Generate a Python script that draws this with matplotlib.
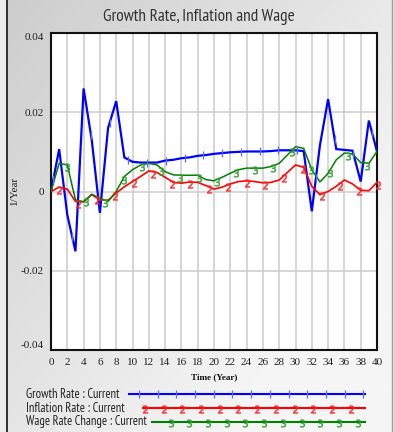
import numpy as np
import matplotlib
matplotlib.use("Agg")
import matplotlib.pyplot as plt
from matplotlib import font_manager as fm

# ---------------- data ----------------
years = list(range(0, 41))
growth = [0.0, 0.0107, -0.0059, -0.0151, 0.0260, 0.0130, -0.0054, 0.0160, 0.0228, 0.0086,
          0.0075, 0.0073, 0.0073, 0.0073, 0.0078, 0.0080, 0.0084, 0.0086, 0.0090, 0.0092,
          0.0095, 0.0097, 0.0099, 0.0100, 0.0101, 0.0101, 0.0101, 0.0102, 0.0104, 0.0104,
          0.0104, 0.0102, -0.0050, 0.0117, 0.0233, 0.0107, 0.0105, 0.0103, 0.0025, 0.0179,
          0.0101]
inflation = [0.0, 0.0011, 0.0006, -0.0025, -0.0026, -0.0008, -0.0021, -0.0022, -0.0004, 0.0012,
             0.0025, 0.0038, 0.0052, 0.0048, 0.0036, 0.0023, 0.0021, 0.0024, 0.0023, 0.0015,
             0.0006, 0.0011, 0.0019, 0.0025, 0.0027, 0.0025, 0.0022, 0.0023, 0.0029, 0.0048,
             0.0067, 0.0061, 0.0013, -0.0008, 0.0000, 0.0013, 0.0029, 0.0019, 0.0003, 0.0002,
             0.0023]
wage = [0.0, 0.0071, 0.0067, -0.0021, -0.0026, -0.0007, -0.0017, -0.0025, 0.0000, 0.0038,
        0.0055, 0.0067, 0.0071, 0.0067, 0.0050, 0.0042, 0.0041, 0.0041, 0.0041, 0.0030,
        0.0027, 0.0036, 0.0046, 0.0055, 0.0059, 0.0059, 0.0059, 0.0063, 0.0071, 0.0092,
        0.0113, 0.0109, 0.0055, 0.0024, 0.0046, 0.0080, 0.0097, 0.0095, 0.0073, 0.0071,
        0.0101]
series_labels = ["Growth Rate : Current", "Inflation Rate : Current", "Wage Rate Change : Current"]
series_marks = ["1", "2", "3"]
x_ticks = list(range(0, 41, 2))
y_ticks = [-0.04, -0.02, 0.0, 0.02, 0.04]
y_tick_labels = ["-0.04", "-0.02", "0", "0.02", "0.04"]
title = "Growth Rate, Inflation and Wage"
x_label = "Time (Year)"
y_label = "1/Year"


def pick_font(cands, default):
    avail = {f.name for f in fm.fontManager.ttflist}
    for c in cands:
        if c in avail:
            return c
    return default


NARROW_NAME = pick_font(["Liberation Sans Narrow", "PT Sans Narrow", "Roboto Condensed",
                         "Archivo Narrow", "IBM Plex Sans Condensed", "Sofia Sans Condensed",
                         "Open Sans Condensed", "Saira Condensed", "Encode Sans Condensed",
                         "Fira Sans Condensed", "Asap Condensed", "Barlow Condensed"],
                        "Liberation Serif")
NARROW = [NARROW_NAME, "DejaVu Sans"]
SERIF = ["Liberation Serif", "DejaVu Serif"]

# ---------------- style ----------------
W, H = 394, 432
BLUE, RED, GREEN = "#0000ff", "#ff0000", "#008000"
colors = [BLUE, RED, GREEN]
mark_colors = ["#5a6aff", "#ff2020", "#30a030"]

fig = plt.figure(figsize=(W / 100, H / 100), dpi=100)

# background gradient
bg = fig.add_axes([0, 0, 1, 1], zorder=-10)
u = np.linspace(0, 1, 300)[None, :]
v = np.linspace(0, 1, 300)[:, None]
g = 0.80 + 0.16 * np.clip(0.7 * u + 0.6 * v, 0, 1)
bg.imshow(g, cmap="gray", vmin=0, vmax=1, extent=[0, 1, 0, 1], aspect="auto", origin="upper")
bg.set_xlim(0, 1)
bg.set_ylim(0, 1)
bg.set_axis_off()
bg.fill_between([0, 6 / W], 0, 1, color="#ececec", lw=0)
bg.axvline(6.5 / W, color="#303030", lw=1.4)
bg.axvline(392 / W, color="#9a9a9a", lw=1.0)
bg.fill_between([392.5 / W, 1], 0, 1, color="#f6f6f6", lw=0)

# main axes
ax = fig.add_axes([51 / W, 1 - 350 / H, 326 / W, 317 / H])
ax.set_facecolor("white")
ax.set_xlim(0, 40)
ax.set_ylim(-0.04, 0.04)
ax.set_xticks(x_ticks)
ax.set_xticklabels([str(t) for t in x_ticks])
ax.set_yticks(y_ticks)
ax.set_yticklabels(y_tick_labels)
ax.grid(True, color="#cfcfcf", lw=1.2)
ax.set_axisbelow(True)
ax.tick_params(length=0, labelsize=8, colors="#222222")
ax.tick_params(axis="x", pad=6)
ax.tick_params(axis="y", pad=5)
for lab in ax.get_xticklabels() + ax.get_yticklabels():
    lab.set_family(SERIF)
ylabs = ax.get_yticklabels()
ylabs[-1].set_va("top")
ylabs[0].set_va("bottom")
for sp in ax.spines.values():
    sp.set_color("#111111")
    sp.set_linewidth(1.5)

data = [growth, inflation, wage]
widths = [1.6, 1.2, 1.1]
starts = [0.3, 1.0, 2.0]
for vals, c, mc, lw, st, mk in zip(data, colors, mark_colors, widths, starts, series_marks):
    ax.plot(years, vals, color=c, lw=lw, zorder=3, solid_joinstyle="miter")
    xm = np.arange(st, 40.3, 2.3)
    ym = np.interp(xm, years, vals)
    if mk == "1":
        ax.plot(xm, ym, ls="none", marker="|", ms=6, mew=0.9, color=mc, zorder=4, clip_on=False)
    else:
        ax.plot(xm, ym - 0.0006, ls="none", marker="$" + mk + "$", ms=5.5, mew=0.3,
                color=mc, zorder=4, clip_on=False)

# titles / labels
fig.text(199 / W, 1 - 17 / H, title, ha="center", va="center", fontsize=12.4,
         family=NARROW, color="#333333")
fig.text(14 / W, 1 - 190 / H, y_label, rotation=90, ha="center", va="center",
         fontsize=8, family=SERIF, color="#222222")
fig.text(214 / W, 1 - 377 / H, x_label, ha="center", va="center", fontsize=6.6,
         family=SERIF, color="#111111", weight="bold")

# legend
rows_y = [394, 408, 422]
line_start = [129, 143, 152]
mark_start = [139, 145, 170.7]
mark_end = [366, 352, 358]
for lab, c, mc, ry, ls, ms0, me, mk in zip(series_labels, colors, mark_colors, rows_y,
                                          line_start, mark_start, mark_end, series_marks):
    fig.text(26 / W, 1 - ry / H, lab, ha="left", va="center", fontsize=9.0,
             family=NARROW, color="#222222")
    bg.plot([ls / W, 365 / W], [1 - ry / H, 1 - ry / H], color=c, lw=1.5)
    px = np.arange(ms0, me, 18.7)
    if mk == "1":
        bg.plot(px / W, np.full(px.shape, 1 - ry / H), ls="none", marker="|", ms=6,
                mew=0.9, color=mc)
    else:
        bg.plot(px / W, np.full(px.shape, 1 - (ry + 1) / H), ls="none", marker="$" + mk + "$",
                ms=5.5, mew=0.3, color=mc)

fig.savefig("out.png", dpi=100)
